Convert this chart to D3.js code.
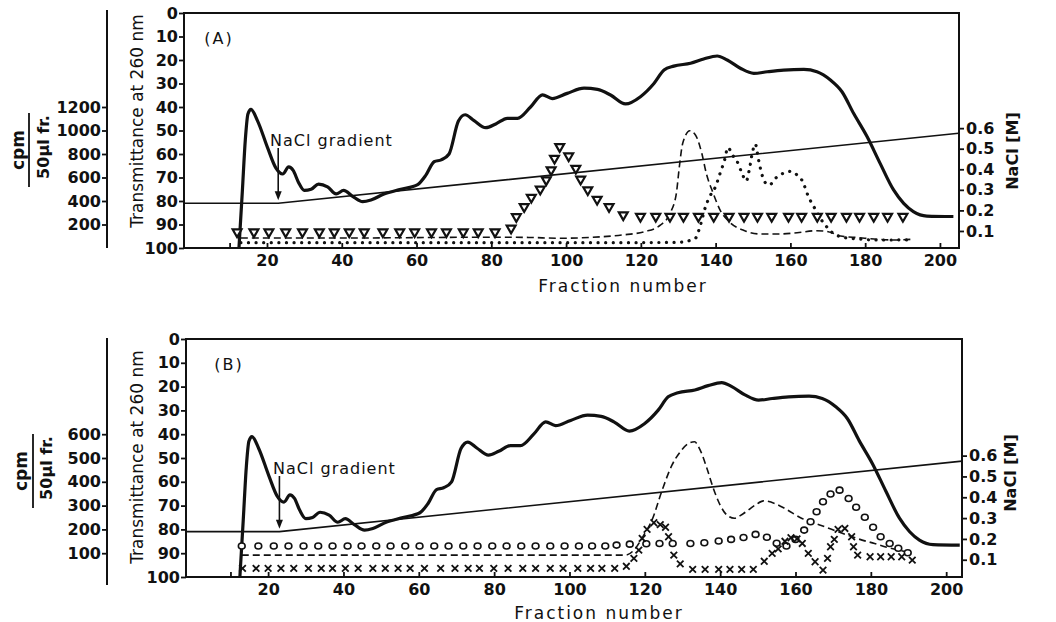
<!DOCTYPE html>
<html>
<head>
<meta charset="utf-8">
<script src="https://cdn.jsdelivr.net/npm/d3@7"></script>
<style>
  body { margin: 0; background: #fff; }
  svg { display: block; }
  text { font-family: "DejaVu Sans", sans-serif; fill: #111; }
</style>
</head>
<body>
<div id="chart"></div>
<script>
// ---------- values ----------
// transmittance at 260 nm (%), same elution profile in both panels: [fraction, T]
var transmittance = [[12.5,100],[13.4,76],[14.2,54],[14.9,43],[15.7,41],[17.5,46],[20.2,57.5],[22.4,66],[24.2,68.5],
  [25.8,65.5],[27,67],[28.4,72],[30,75.5],[31.8,75],[33.8,72.8],[36.2,74],[38.5,77],[40.5,75.5],[42.9,78],[45.6,80.3],
  [47.8,79.6],[51.3,77],[55.8,75],[60.3,73],[62.5,69],[64.7,63.3],[66.6,62.5],[68.7,60],[71.2,46],[73,43.3],[75.4,45.8],
  [78.5,48.8],[81.2,47.2],[84.3,44.8],[87,44.8],[90.5,40],[93.7,34.8],[96.3,36.4],[100.3,34.2],[104.8,32],[108.4,32.5],
  [111.9,34.9],[115.9,38.7],[119.9,35.6],[123.5,30],[126.2,24.3],[128.8,22.6],[133.3,21.4],[136.8,19.6],[140.4,18.3],
  [143.1,20],[146.6,23.5],[150.2,25.7],[153.8,25],[158.2,24.3],[163.6,24],[167.1,25],[170.7,28.5],[173.8,33.5],
  [176.9,42.7],[180.5,52.6],[184,64],[187.6,75.3],[190.3,81],[192.9,84.5],[196.5,86.4],[203.6,86.6]];

// NaCl gradient [fraction, M]
var naclGradient = [[-2,0.235],[23,0.235],[205,0.575]];
var arrowFraction = 23;

// panel A, cpm per 50 ul fraction: [fraction, cpm]
var trianglesA = [[12,136],[16.5,136],[20.5,136],[25,136],[29.5,136],[34,136],[38,136],[42,136],[46,136],[51,136],
  [55.5,136],[59.5,136],[64,136],[68,136],[72.5,136],[76.5,136],[81,136],[85.3,168],[86.7,266],[88.8,351],[90.7,431],
  [93.1,500],[94.7,579],[96,664],[96.9,763],[98.3,862],[100.7,783],[102.6,678],[103.9,585],[105.8,494],[108.3,414],
  [111.5,351],[115.3,281],[119.9,268],[124,268],[127.8,268],[131.4,268],[135.4,268],[139.5,268],[143.6,268],[147.6,268],
  [151.2,268],[155,268],[159.5,268],[163,268],[167.2,268],[170.9,268],[175,268],[178.5,268],[182.3,268],[186,268],[190.1,268]];
var dottedA = [[13,45],[40,45],[80,45],[110,45],[130,48],[134.6,83],[135.8,181],[137.3,351],[138.4,437],[139.9,517],
  [141.2,636],[142.4,749],[143.3,855],[144.5,791],[145.7,740],[146.9,649],[148.2,570],[149,664],[149.8,806],[150.6,885],
  [151.5,749],[152.3,636],[153.1,564],[154.4,536],[156,593],[157.7,630],[160,652],[161.8,621],[163.5,551],[164.3,479],
  [165.5,394],[166.8,323],[168,253],[169.3,196],[170.9,139],[173.4,96],[175.9,83],[179.2,74],[182.5,68],[186.6,68],
  [189.9,70],[192.4,68]];
var dashedA = [[13,85],[40,85],[81,92],[90,90],[98,83],[106.6,90],[115,111],[121,139],[125.3,196],[127.8,295],
  [129.5,466],[130.3,692],[131.2,891],[133.1,998],[134.6,962],[136.3,806],[137.5,636],[139.3,470],[141.2,323],
  [143.6,224],[147.8,147],[151.9,119],[156.9,119],[161.8,130],[166.8,147],[170.1,139],[173.4,102],[178.3,88],
  [183.3,74],[188.3,68],[192.4,74]];

// panel B
var circlesB = [[13,130],[17.4,130],[21.5,130],[25.4,130],[29.4,130],[33.3,130],[37.1,130],[41.1,130],[44.8,130],
  [48.7,130],[52.5,130],[56.4,130],[60.2,130],[64.1,130],[67.9,130],[71.8,130],[75.6,130],[79.5,130],[83.3,130],
  [87.2,130],[91,130],[94.9,130],[98.7,130],[102.5,130],[106,130],[109.5,130],[112.5,134],[116,138],[120.4,140],
  [123.9,141],[127.4,141],[132.1,141],[135.8,144],[139.6,151],[142.9,158],[146.2,166],[149.4,179],[152.4,167],
  [155,142],[157.6,130],[160,158],[162.3,197],[164,232],[165.6,274],[167.3,316],[169.3,349],[171.7,365],[174.1,330],
  [176.1,293],[178.4,251],[180.6,209],[182.6,169],[185,141],[187.3,121],[189.8,102]];
var crossesB = [[13.2,36],[16.8,36],[20,36],[23.4,36],[26.8,36],[30.7,36],[34.1,36],[37.1,36],[40.5,36],[43.9,36],
  [47.8,36],[51.1,36],[54.5,36],[57.7,36],[61.5,36],[65.8,36],[69.6,36],[73.1,36],[76.1,36],[79.9,36],[83.7,36],
  [87.6,36],[91,36],[94.9,36],[98.3,36],[102.2,36],[105.6,36],[108.6,36],[112,36],[115.1,45],[117.1,78],[118.4,113],
  [119.3,162],[120.6,200],[122.4,228],[124.1,220],[125.5,209],[126.3,169],[127.7,92],[129.4,55],[132.7,32],[136,32],
  [139.6,32],[142.6,32],[145.7,32],[148.8,32],[151.7,66],[153.8,99],[155.4,118],[157.2,150],[158.8,165],[160.4,160],
  [161.8,141],[163.4,99],[165.2,64],[167.3,29],[168.5,78],[169.3,127],[170.3,158],[171.3,200],[173.1,204],[174.9,169],
  [175.4,127],[176.5,92],[179.8,85],[182.6,85],[185.4,85],[188.2,85],[191,71]];
var dashedB = [[13,92],[50,92],[90,92],[114.9,92],[117.5,120],[119.5,170],[121.9,239],[124.6,365],[127.2,470],
  [129.4,526],[131.6,561],[133.2,568],[134.7,533],[136.5,456],[138.2,372],[140,302],[141.8,260],[143.8,247],
  [146.2,267],[149.3,302],[151.5,320],[154.5,309],[157.5,285],[161.6,247],[164.8,228],[168.1,209],[171.3,190],
  [174.5,172],[177.7,155],[181,141],[184.2,125],[187.4,113],[190.6,102]];

// tick labels
var transTicks = [0,10,20,30,40,50,60,70,80,90,100];
var fractionTicks = [10,20,40,60,80,100,120,140,160,180,200];
var naclTicks = [0.1,0.2,0.3,0.4,0.5,0.6];
var cpmTicksA = [200,400,600,800,1000,1200];
var cpmTicksB = [100,200,300,400,500,600];

// ---------- layout ----------
var panels = [
  { name: "(A)", top: 13, bottom: 248, left: 184, right: 959, frDomain: [-2.2, 205.1],
    cpmMax: 2000, cpmTicks: cpmTicksA, cpmLine: [10, 248],
    nameX: 219, transY: 121, cpmY: 150, cpmX: [18, 29, 43], naclLabelX: 1012, naclLabelY: 151,
    gradLabel: [270, 140], xTitle: [623, 286],
    lines: [{ data: dashedA, style: "dashed" }, { data: dottedA, style: "dotted" }],
    markers: [{ data: trianglesA, kind: "triangle" }] },
  { name: "(B)", top: 339, bottom: 577, left: 186, right: 962, frDomain: [-1.8, 204.2],
    cpmMax: 1000, cpmTicks: cpmTicksB, cpmLine: [338, 585],
    nameX: 229, transY: 457, cpmY: 471, cpmX: [21, 33, 46], naclLabelX: 1010, naclLabelY: 473,
    gradLabel: [273, 468], xTitle: [599, 613],
    lines: [{ data: dashedB, style: "dashed" }],
    markers: [{ data: circlesB, kind: "circle" }, { data: crossesB, kind: "cross" }] }
];

var svg = d3.select("#chart").append("svg")
  .attr("width", 1056)
  .attr("height", 622);

panels.forEach(function(p, i) {
  var h = p.bottom - p.top;
  var x = d3.scaleLinear().domain(p.frDomain).range([p.left, p.right]);
  var yT = d3.scaleLinear().domain([0, 100]).range([p.top, p.bottom]);
  var yC = d3.scaleLinear().domain([0, p.cpmMax]).range([p.bottom, p.top]);
  var yN = d3.scaleLinear().domain([0, 0.6]).range([p.top + h * 1.015, p.top + h * 0.49]);

  var g = svg.append("g");

  g.append("clipPath").attr("id", "clip" + i)
    .append("rect")
    .attr("x", p.left).attr("y", p.top)
    .attr("width", p.right - p.left).attr("height", h);

  // axes
  var xAxis = g.append("g")
    .attr("transform", `translate(0, ${p.bottom})`)
    .call(d3.axisBottom(x).tickValues(fractionTicks).tickSizeInner(-5).tickSizeOuter(0).tickPadding(7)
      .tickFormat(d => d % 20 === 0 ? d : ""));

  var tAxis = g.append("g")
    .attr("transform", `translate(${p.left}, 0)`)
    .call(d3.axisLeft(yT).tickValues(transTicks).tickSize(5).tickPadding(1));

  var cAxis = g.append("g")
    .attr("transform", "translate(107, 0)")
    .call(d3.axisLeft(yC).tickValues(p.cpmTicks).tickSize(5).tickPadding(1).tickFormat(d3.format("d")));

  var nAxis = g.append("g")
    .attr("transform", `translate(${p.right}, 0)`)
    .call(d3.axisRight(yN).tickValues(naclTicks).tickSize(5).tickPadding(2).tickFormat(d3.format(".1f")));

  [xAxis, tAxis, cAxis, nAxis].forEach(function(a) {
    a.select(".domain").remove();
    a.selectAll("line").attr("stroke", "#111").attr("stroke-width", 1.8);
    a.selectAll("text").attr("font-size", "16px").attr("font-weight", "bold").attr("fill", "#111");
  });

  g.append("line")
    .attr("x1", 107).attr("x2", 107)
    .attr("y1", p.cpmLine[0]).attr("y2", p.cpmLine[1])
    .attr("stroke", "#111").attr("stroke-width", 2);

  g.append("rect")
    .attr("x", p.left).attr("y", p.top)
    .attr("width", p.right - p.left).attr("height", h)
    .attr("fill", "none").attr("stroke", "#111").attr("stroke-width", 2);

  var plot = g.append("g").attr("clip-path", `url(#clip${i})`);

  // NaCl gradient
  plot.append("path")
    .datum(naclGradient)
    .attr("d", d3.line().x(d => x(d[0])).y(d => yN(d[1])))
    .attr("fill", "none").attr("stroke", "#111").attr("stroke-width", 1.6);

  // cpm curves
  var cpmLine = d3.line().x(d => x(d[0])).y(d => yC(d[1])).curve(d3.curveMonotoneX);
  p.lines.forEach(function(s) {
    var path = plot.append("path")
      .datum(s.data)
      .attr("d", cpmLine)
      .attr("fill", "none").attr("stroke", "#111");
    if (s.style === "dashed") {
      path.attr("stroke-width", 1.6).attr("stroke-dasharray", "7,4");
    } else {
      path.attr("stroke-width", 3.2).attr("stroke-dasharray", "0.1,7.5").attr("stroke-linecap", "round");
    }
  });

  // transmittance
  plot.append("path")
    .datum(transmittance)
    .attr("d", d3.line().x(d => x(d[0])).y(d => yT(d[1])).curve(d3.curveMonotoneX))
    .attr("fill", "none").attr("stroke", "#111").attr("stroke-width", 3.2)
    .attr("stroke-linejoin", "round");

  // markers
  p.markers.forEach(function(s) {
    var m = plot.append("g").selectAll("g")
      .data(s.data)
      .enter()
      .append("g")
      .attr("transform", d => `translate(${x(d[0])}, ${yC(d[1])})`);
    if (s.kind === "triangle") {
      m.append("path")
        .attr("d", d3.symbol(d3.symbolTriangle, 34)())
        .attr("transform", "rotate(180)")
        .attr("fill", "#fff").attr("stroke", "#111").attr("stroke-width", 2.2);
    } else if (s.kind === "circle") {
      m.append("ellipse")
        .attr("rx", 3.4).attr("ry", 3)
        .attr("fill", "#fff").attr("stroke", "#111").attr("stroke-width", 1.6);
    } else {
      m.append("path")
        .attr("d", "M-3.3,-3.3L3.3,3.3M-3.3,3.3L3.3,-3.3")
        .attr("stroke", "#111").attr("stroke-width", 1.8);
    }
  });

  // labels
  g.append("text")
    .attr("x", p.nameX).attr("y", p.top + 25)
    .attr("text-anchor", "middle").attr("dominant-baseline", "central")
    .attr("font-size", "16px").attr("letter-spacing", "2px")
    .text(p.name);

  var ax = x(arrowFraction);
  var tipY = yN(naclGradient[1][1]) - 3;
  g.append("text")
    .attr("x", p.gradLabel[0]).attr("y", p.gradLabel[1])
    .attr("dominant-baseline", "central")
    .attr("font-size", "16px").attr("letter-spacing", "1px")
    .text("NaCl gradient");
  g.append("line")
    .attr("x1", ax).attr("x2", ax)
    .attr("y1", p.gradLabel[1] + 8).attr("y2", tipY - 6)
    .attr("stroke", "#111").attr("stroke-width", 1.6);
  g.append("path")
    .attr("d", `M${ax - 3.5},${tipY - 9}L${ax + 3.5},${tipY - 9}L${ax},${tipY}Z`)
    .attr("fill", "#111");

  g.append("text")
    .attr("transform", `translate(137, ${p.transY}) rotate(-90)`)
    .attr("text-anchor", "middle").attr("dominant-baseline", "central")
    .attr("font-size", "17px")
    .text("Transmittance at 260 nm");

  g.append("text")
    .attr("transform", `translate(${p.cpmX[0]}, ${p.cpmY}) rotate(-90)`)
    .attr("text-anchor", "middle").attr("dominant-baseline", "central")
    .attr("font-size", "17px").attr("font-weight", "bold")
    .text("cpm");
  g.append("line")
    .attr("x1", p.cpmX[1]).attr("x2", p.cpmX[1])
    .attr("y1", p.cpmY - 37).attr("y2", p.cpmY + 37)
    .attr("stroke", "#111").attr("stroke-width", 1.8);
  g.append("text")
    .attr("transform", `translate(${p.cpmX[2]}, ${p.cpmY - 3}) rotate(-90)`)
    .attr("text-anchor", "middle").attr("dominant-baseline", "central")
    .attr("font-size", "16px").attr("font-weight", "bold")
    .text("50\u00b5l fr.");

  g.append("text")
    .attr("transform", `translate(${p.naclLabelX}, ${p.naclLabelY}) rotate(-90)`)
    .attr("text-anchor", "middle").attr("dominant-baseline", "central")
    .attr("font-size", "16px").attr("font-weight", "bold")
    .text("NaCl [M]");

  g.append("text")
    .attr("x", p.xTitle[0]).attr("y", p.xTitle[1])
    .attr("text-anchor", "middle").attr("dominant-baseline", "central")
    .attr("font-size", "17px").attr("letter-spacing", "2px")
    .text("Fraction number");
});
</script>
</body>
</html>
